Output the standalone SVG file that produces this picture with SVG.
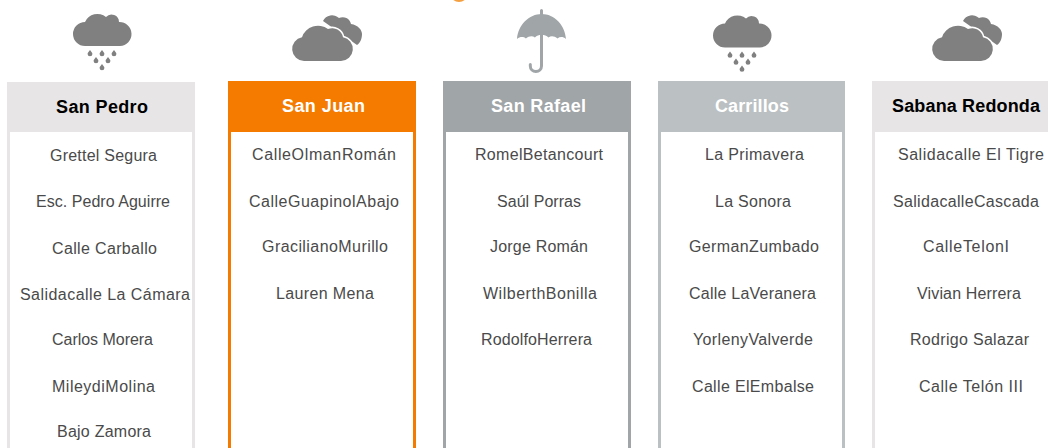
<svg xmlns="http://www.w3.org/2000/svg" xmlns:xlink="http://www.w3.org/1999/xlink" width="1048" height="448" viewBox="0 0 1048 448">
<style>
text{font-family:"Liberation Sans",Arial,sans-serif}
.t{font-size:16px;fill:#4a4a4a}
.h{font-size:18px;font-weight:700;fill:#fff}
.d{fill:#000}
.box{fill:#fff;stroke-width:3}
.ic{fill:#808080}
</style>
<defs>
<g id="rain">
<path class="ic" d="M85 46a12 12 0 1 1 0-24a13.500 13.500 0 0 1 21-5a7.500 7.500 0 0 1 13 5a12 12 0 0 1 1 24z"/>
<g class="ic"><path id="dr" d="M90 50c1.300 1.800 2.400 2.700 2.400 3.900a2.400 2.400 0 0 1-4.800 0c0-1.200 1.100-2.100 2.400-3.900z"/>
<use xlink:href="#dr" x="12"/><use xlink:href="#dr" x="24"/><use xlink:href="#dr" x="6" y="7"/><use xlink:href="#dr" x="18" y="7"/><use xlink:href="#dr" x="12" y="14"/></g>
</g>
<g id="clouds">
<path class="ic" d="M323 21a10 10 0 0 1 16-3a8.500 8.500 0 0 1 12 6C358 25 362 30 362 34C362 39 360 43 357 45z"/>
<path class="ic" stroke="#fff" stroke-width="3" paint-order="stroke" d="M304 61a12 12 0 0 1-2-23.800a17 17 0 0 1 26-8.200a11 11 0 0 1 15 8.200a12 12 0 0 1-2 23.800z"/>
</g>
</defs>
<circle cx="459" cy="-7" r="9" fill="#f5a040"/>
<g id="icon-san-pedro"><use xlink:href="#rain"/></g>
<g id="icon-san-juan"><use xlink:href="#clouds"/></g>
<g id="icon-san-rafael">
<path fill="#a0a5a8" d="M517 39c1-14 12-25 24.700-25s23.300 11 24.300 25c-3-2.500-6-2.500-8.500-.5c-3-2.500-6.500-3-9-1c-2-2-4-2.500-6.800-2.500s-5 .5-6.800 2.500c-2.500-2-6-1.500-9 1c-2.500-2-5.900-2-8.900.5z"/>
<path fill="none" stroke="#a0a5a8" stroke-width="3" stroke-linecap="round" d="M541.500 10.500V66a5.600 5.600 0 0 1-11.200 0v-1.500"/>
</g>
<g id="icon-carrillos"><use xlink:href="#rain" x="640" y="1.500"/></g>
<g id="icon-sabana-redonda"><use xlink:href="#clouds" x="640"/></g>
<g id="node-san-pedro">
<rect class="box" x="8.500" y="100" width="185" height="360" stroke="#e7e5e6"/>
<rect x="7" y="82" width="188" height="50" fill="#e7e5e6"/>
<text class="h d" x="56" y="113" textLength="92">San Pedro</text>
<text class="t" x="50" y="161" textLength="107">Grettel Segura</text>
<text class="t" x="36" y="207" textLength="134">Esc. Pedro Aguirre</text>
<text class="t" x="52" y="254" textLength="105">Calle Carballo</text>
<text class="t" x="20" y="300" textLength="170">Salidacalle La Cámara</text>
<text class="t" x="52" y="345" textLength="101">Carlos Morera</text>
<text class="t" x="52" y="392" textLength="103">MileydiMolina</text>
<text class="t" x="57" y="437" textLength="94">Bajo Zamora</text>
</g>
<g id="node-san-juan">
<rect class="box" x="229.500" y="100" width="185" height="360" stroke="#f47b00"/>
<rect x="228" y="81" width="188" height="51" fill="#f47b00"/>
<text class="h" x="282" y="112" textLength="83">San Juan</text>
<text class="t" x="252" y="160" textLength="144">CalleOlmanRomán</text>
<text class="t" x="249" y="207" textLength="150">CalleGuapinolAbajo</text>
<text class="t" x="262" y="252" textLength="126">GracilianoMurillo</text>
<text class="t" x="276" y="299" textLength="98">Lauren Mena</text>
</g>
<g id="node-san-rafael">
<rect class="box" x="444.500" y="100" width="185" height="360" stroke="#a0a5a8"/>
<rect x="443" y="81" width="188" height="51" fill="#a0a5a8"/>
<text class="h" x="491" y="112" textLength="95">San Rafael</text>
<text class="t" x="475" y="160" textLength="128">RomelBetancourt</text>
<text class="t" x="497" y="207" textLength="84">Saúl Porras</text>
<text class="t" x="490" y="252" textLength="98">Jorge Román</text>
<text class="t" x="483" y="299" textLength="114">WilberthBonilla</text>
<text class="t" x="481" y="345" textLength="111">RodolfoHerrera</text>
</g>
<g id="node-carrillos">
<rect class="box" x="659.500" y="100" width="184" height="360" stroke="#bbc0c2"/>
<rect x="658" y="81" width="187" height="51" fill="#bbc0c2"/>
<text class="h" x="715" y="112" textLength="74">Carrillos</text>
<text class="t" x="705" y="160" textLength="99">La Primavera</text>
<text class="t" x="715" y="207" textLength="76">La Sonora</text>
<text class="t" x="689" y="252" textLength="130">GermanZumbado</text>
<text class="t" x="689" y="299" textLength="127">Calle LaVeranera</text>
<text class="t" x="693" y="345" textLength="120">YorlenyValverde</text>
<text class="t" x="692" y="392" textLength="122">Calle ElEmbalse</text>
</g>
<g id="node-sabana-redonda">
<rect class="box" x="873.500" y="100" width="200" height="360" stroke="#e7e5e6"/>
<rect x="872" y="81" width="190" height="51" fill="#e7e5e6"/>
<text class="h d" x="892" y="112" textLength="148">Sabana Redonda</text>
<text class="t" x="898" y="160" textLength="146">Salidacalle El Tigre</text>
<text class="t" x="893" y="207" textLength="146">SalidacalleCascada</text>
<text class="t" x="923" y="252" textLength="86">CalleTelonI</text>
<text class="t" x="917" y="299" textLength="104">Vivian Herrera</text>
<text class="t" x="910" y="345" textLength="119">Rodrigo Salazar</text>
<text class="t" x="919" y="392" textLength="104">Calle Telón III</text>
</g>
</svg>
